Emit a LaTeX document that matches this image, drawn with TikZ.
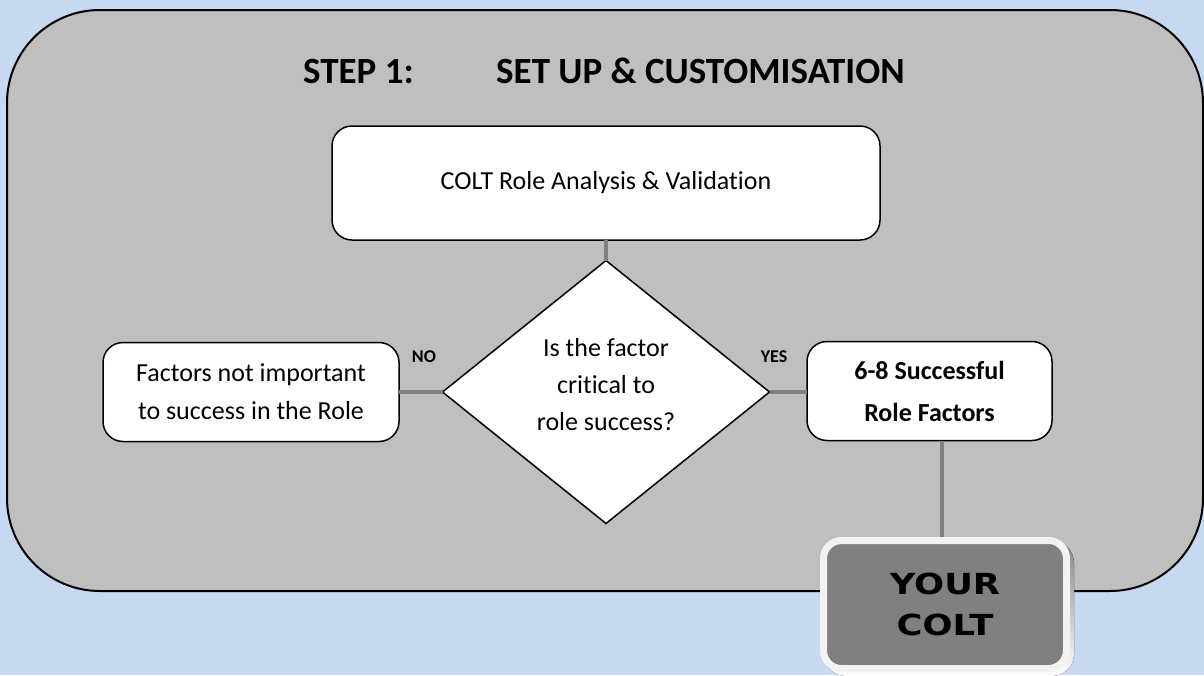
\documentclass[tikz,border=0pt]{standalone}
\usepackage{fontspec}
\setmainfont{Carlito}[Ligatures=NoCommon]
\newfontfamily\techfont[FakeStretch=1.22]{DejaVu Sans}
\usetikzlibrary{shapes.geometric}
\definecolor{bg}{HTML}{C6D9F1}
\definecolor{panel}{HTML}{BFBFBF}
\definecolor{conn}{HTML}{808080}
\definecolor{rim}{HTML}{F2F2F2}
\definecolor{shade}{HTML}{A3B2C8}
\begin{document}
\begin{tikzpicture}[x=1pt,y=-1pt,
  box/.style={draw=black, line width=1.5pt, fill=white, rounded corners=20pt,
    align=center, inner sep=0pt, outer sep=0pt},
  bodytext/.style={font=\fontsize{26}{38}\selectfont},
  boldtext/.style={font=\bfseries\fontsize{26}{42}\selectfont},
  decision/.style={diamond, draw=black, line width=1.5pt, fill=white, aspect=1.243,
    minimum width=327pt, minimum height=263pt, inner sep=0pt, outer sep=0pt,
    align=center, font=\fontsize{26}{37}\selectfont, text depth=16pt},
  link/.style={draw=conn, line width=4.5pt},
  lab/.style={font=\bfseries\fontsize{18}{20}\selectfont, inner sep=0pt},
  titletext/.style={font=\bfseries\fontsize{37}{40}\selectfont, anchor=base west, inner sep=0pt},
  colt/.style={fill=conn, draw=rim, line width=7pt, rounded corners=18pt,
    minimum width=243pt, minimum height=128pt, align=center, inner sep=0pt,
    font=\techfont\bfseries\fontsize{29}{41}\selectfont}]
\fill[bg] (0,0) rectangle (1204,675);
\useasboundingbox (0,0) rectangle (1204,675);
\draw[fill=panel, line width=2pt, rounded corners=93pt] (7,10) rectangle (1203,591);
\node[titletext] (t1) at (303,83) {STEP 1:};
\node[titletext] (t2) at (496,83) {SET UP \& CUSTOMISATION};
\node[box, bodytext, minimum width=548pt, minimum height=114pt] (analysis) at (606,183) {COLT Role Analysis \& Validation};
\node[decision] (dec) at (606,392) {Is the factor\\critical to\\role success?};
\node[box, bodytext, minimum width=296pt, minimum height=99pt] (no) at (251,392) {Factors not important\\to success in the Role};
\node[box, boldtext, minimum width=245pt, minimum height=99pt] (yes) at (929.5,391) {6-8 Successful\\Role Factors};
\node[lab] (nolab) at (424,357) {NO};
\node[lab] (yeslab) at (774,357) {YES};
\fill[shade, rounded corners=22pt] (820,537) ++(4,4) rectangle ++(250,135);
\node[colt] (your) at (945,604.5) {YOUR\\COLT};
\draw[link] (analysis.south) -- (dec.north);
\draw[link] (no.east) -- (dec.west);
\draw[link] (dec.east) -- (yes.west |- dec.east);
\draw[link] (your.north -| 942,0) -- (yes.south -| 942,0);
\end{tikzpicture}
\end{document}
